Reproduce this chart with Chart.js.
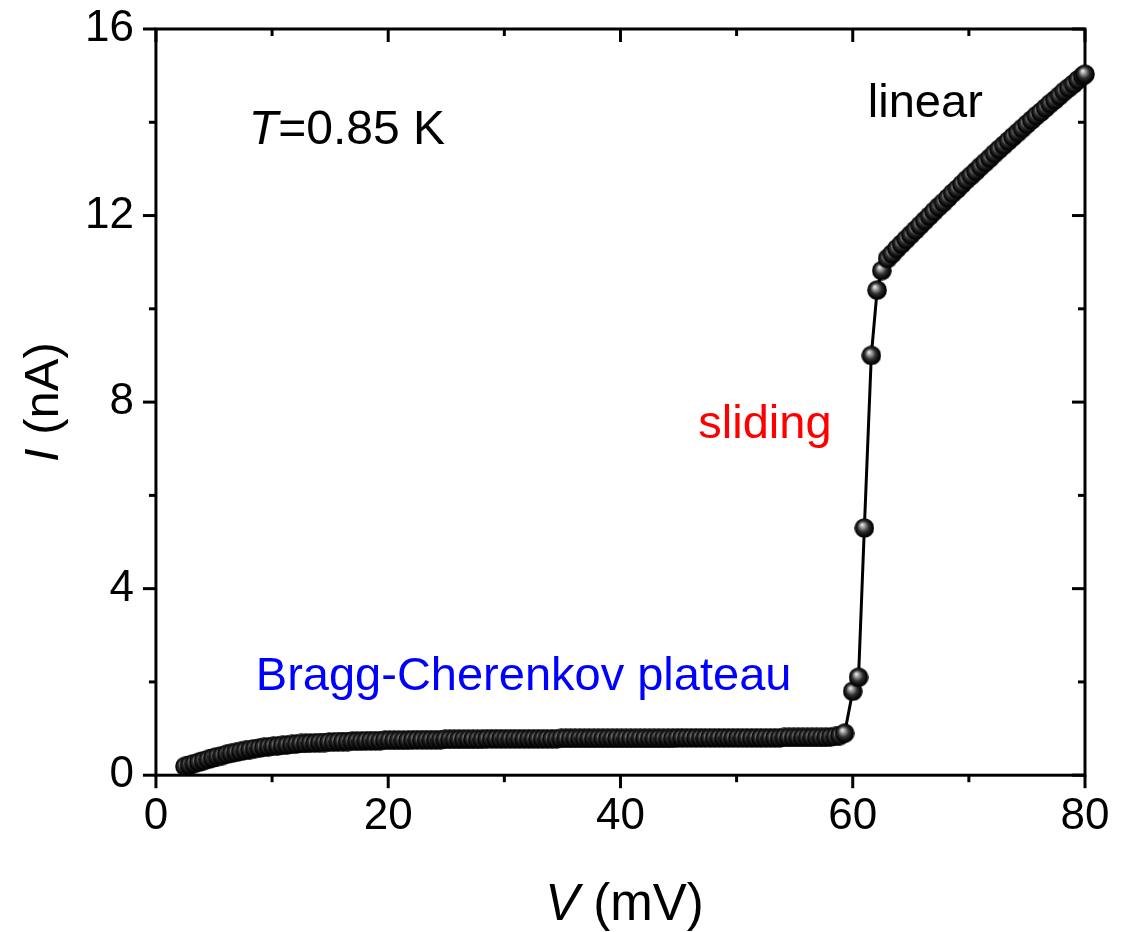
<!DOCTYPE html>
<html><head><meta charset="utf-8">
<script src="https://cdn.jsdelivr.net/npm/chart.js@4.4.0/dist/chart.umd.min.js"></script>
<style>html,body{margin:0;padding:0;background:#fff;}#wrap{width:1132px;height:932px;}</style>
</head><body><div id="wrap"><canvas id="c" width="1132" height="932"></canvas></div>
<script>
// ---------- data ----------
const plateauV = [2.5,2.9,3.3,3.7,4.1,4.5,4.9,5.3,5.7,6.1,6.5,6.9,7.3,7.7,8.1,8.5,8.9,9.3,9.7,
 10.1,10.5,10.9,11.3,11.7,12.1,12.5,12.9,13.3,13.7,14.1,14.5,14.9,15.3,15.7,16.1,16.5,16.9,17.3,17.7,18.1,18.5,18.9,19.3,19.7,
 20.1,20.5,20.9,21.3,21.7,22.1,22.5,22.9,23.3,23.7,24.1,24.5,24.9,25.3,25.7,26.1,26.5,26.9,27.3,27.7,28.1,28.5,28.9,29.3,29.7,
 30.1,30.5,30.9,31.3,31.7,32.1,32.5,32.9,33.3,33.7,34.1,34.5,34.9,35.3,35.7,36.1,36.5,36.9,37.3,37.7,38.1,38.5,38.9,39.3,39.7,
 40.1,40.5,40.9,41.3,41.7,42.1,42.5,42.9,43.3,43.7,44.1,44.5,44.9,45.3,45.7,46.1,46.5,46.9,47.3,47.7,48.1,48.5,48.9,49.3,49.7,
 50.1,50.5,50.9,51.3,51.7,52.1,52.5,52.9,53.3,53.7,54.1,54.5,54.9,55.3,55.7,56.1,56.5,56.9,57.3,57.7,58.1,58.5,58.9,59.3];
const plateauI = [0.19,0.22,0.25,0.28,0.31,0.34,0.37,0.40,0.42,0.45,0.47,0.49,0.51,0.53,0.55,0.57,0.58,0.60,0.61,
 0.62,0.63,0.64,0.65,0.66,0.67,0.68,0.68,0.69,0.69,0.70,0.70,0.71,0.71,0.72,0.72,0.72,0.73,0.73,0.73,0.74,0.74,0.74,0.74,0.75,
 0.75,0.75,0.75,0.75,0.75,0.76,0.76,0.76,0.76,0.76,0.76,0.76,0.77,0.77,0.77,0.77,0.77,0.77,0.77,0.77,0.77,0.78,0.78,0.78,0.78,
 0.78,0.78,0.78,0.78,0.78,0.78,0.78,0.78,0.78,0.78,0.78,0.78,0.79,0.79,0.79,0.79,0.79,0.79,0.79,0.79,0.79,0.79,0.79,0.79,0.79,
 0.79,0.79,0.79,0.79,0.79,0.79,0.79,0.79,0.79,0.79,0.79,0.79,0.80,0.80,0.80,0.80,0.80,0.80,0.80,0.80,0.80,0.80,0.80,0.80,0.80,
 0.80,0.80,0.80,0.80,0.80,0.80,0.80,0.80,0.80,0.80,0.81,0.81,0.81,0.81,0.81,0.81,0.81,0.81,0.81,0.81,0.82,0.83,0.85,0.90];
const slidingV = [60.0,60.5,61.0,61.6,62.1,62.5];
const slidingI = [1.80,2.10,5.30,9.00,10.40,10.82];
const linearV = [63.0,63.4,63.8,64.2,64.6,65.0,65.4,65.8,66.2,66.6,67.0,67.4,67.8,68.2,68.6,69.0,69.4,69.8,70.2,70.6,
 71.0,71.4,71.8,72.2,72.6,73.0,73.4,73.8,74.2,74.6,75.0,75.4,75.8,76.2,76.6,77.0,77.4,77.8,78.2,78.6,79.0,79.4,79.8,80.0];
const linearI = [11.08,11.18,11.29,11.39,11.49,11.59,11.69,11.79,11.89,11.99,12.09,12.19,12.28,12.38,12.48,12.57,12.67,12.77,12.86,12.95,
 13.05,13.14,13.23,13.33,13.42,13.51,13.60,13.69,13.78,13.87,13.96,14.05,14.14,14.22,14.31,14.40,14.48,14.57,14.66,14.74,14.82,14.91,14.99,15.03];
const xMajor = [0,20,40,60,80];
const xMinor = [10,30,50,70];
const yMajor = [0,4,8,12,16];
const yMinor = [2,6,10,14];
const xTitle = [{t:'V',i:true},{t:' (mV)',i:false}];
const yTitle = [{t:'I',i:true},{t:' (nA)',i:false}];
const notes = [
  {parts:[{t:'T',i:true},{t:'=0.85 K',i:false}], x:8.0, y:13.53, color:'#000000', size:48},
  {parts:[{t:'linear',i:false}], x:61.3, y:14.12, color:'#000000', size:47},
  {parts:[{t:'sliding',i:false}], x:46.7, y:7.24, color:'#ff0000', size:47},
  {parts:[{t:'Bragg-Cherenkov plateau',i:false}], x:8.6, y:1.83, color:'#0000ff', size:47}
];

// ---------- build ----------
const FONT = '"Liberation Sans", Arial, Helvetica, sans-serif';
const allV = plateauV.concat(slidingV, linearV);
const allI = plateauI.concat(slidingI, linearI);
const points = allV.map((v,k)=>({x:v, y:allI[k]}));

function makeBead(d){
  const c=document.createElement('canvas'); c.width=d; c.height=d;
  const g=c.getContext('2d'); const r=d/2;
  const grad=g.createRadialGradient(r*0.75, r*0.65, 0, r, r, r);
  grad.addColorStop(0,'#f8f8f8'); grad.addColorStop(0.2,'#b0b0b0');
  grad.addColorStop(0.55,'#303030'); grad.addColorStop(0.85,'#060606'); grad.addColorStop(1,'#000');
  g.fillStyle=grad; g.beginPath(); g.arc(r,r,r-0.2,0,Math.PI*2); g.fill();
  return c;
}
const bead = makeBead(20);

function mixedWidth(ctx, parts, size){
  let w=0; parts.forEach(p=>{ctx.font=(p.i?'italic ':'')+size+'px '+FONT; w+=ctx.measureText(p.t).width;}); return w;
}
function drawMixed(ctx, parts, x, y, size, color, align){
  ctx.save(); ctx.fillStyle=color; ctx.textBaseline='alphabetic'; ctx.textAlign='left';
  let cx = x; if(align==='center') cx = x - mixedWidth(ctx, parts, size)/2;
  parts.forEach(p=>{ctx.font=(p.i?'italic ':'')+size+'px '+FONT; ctx.fillText(p.t, cx, y); cx+=ctx.measureText(p.t).width;});
  ctx.restore();
}

const framePlugin = {
  id:'frame',
  beforeDatasetsDraw(chart){
    const {ctx, chartArea:a, scales:{x, y}} = chart;
    ctx.save(); ctx.strokeStyle='#000'; ctx.lineWidth=3; ctx.lineCap='square';
    ctx.strokeRect(a.left, a.top, a.right-a.left, a.bottom-a.top);
    ctx.lineCap='butt';
    const tick=(x1,y1,x2,y2)=>{ctx.beginPath(); ctx.moveTo(x1,y1); ctx.lineTo(x2,y2); ctx.stroke();};
    const MJ=13, MN=7;
    xMajor.forEach(v=>{const px=x.getPixelForValue(v); tick(px,a.bottom,px,a.bottom+MJ); tick(px,a.top,px,a.top+MJ);});
    xMinor.forEach(v=>{const px=x.getPixelForValue(v); tick(px,a.bottom,px,a.bottom+MN); tick(px,a.top,px,a.top+MN);});
    yMajor.forEach(v=>{const py=y.getPixelForValue(v); tick(a.left-MJ,py,a.left,py); tick(a.right-MJ,py,a.right,py);});
    yMinor.forEach(v=>{const py=y.getPixelForValue(v); tick(a.left-MN,py,a.left,py); tick(a.right-MN,py,a.right,py);});
    ctx.restore();
  },
  afterDraw(chart){
    const {ctx, chartArea:a, scales:{x, y}} = chart;
    drawMixed(ctx, xTitle, (a.left+a.right)/2+4, 920, 51, '#000', 'center');
    ctx.save(); ctx.translate(58, (a.top+a.bottom)/2); ctx.rotate(-Math.PI/2);
    drawMixed(ctx, yTitle, 0, 0, 49, '#000', 'center'); ctx.restore();
    notes.forEach(n=>drawMixed(ctx, n.parts, x.getPixelForValue(n.x), y.getPixelForValue(n.y), n.size, n.color, 'left'));
  }
};

new Chart(document.getElementById('c'), {
  type:'scatter',
  data:{datasets:[{data:points, showLine:true, borderColor:'#000', borderWidth:3, tension:0,
    pointStyle:bead, pointRadius:10, pointHoverRadius:10, clip:false}]},
  options:{
    responsive:false, animation:false, events:[],
    plugins:{legend:{display:false}, tooltip:{enabled:false}},
    layout:{padding:{left:63, right:47, top:29, bottom:74}},
    scales:{
      x:{type:'linear', min:0, max:80,
        afterBuildTicks:s=>{s.ticks=xMajor.map(v=>({value:v}));},
        ticks:{font:{family:FONT,size:44}, color:'#000', padding:15, maxRotation:0, autoSkip:false},
        grid:{display:false, drawTicks:false}, border:{display:false}},
      y:{type:'linear', min:0, max:16,
        afterBuildTicks:s=>{s.ticks=yMajor.map(v=>({value:v}));},
        ticks:{font:{family:FONT,size:44,lineHeight:0.2}, color:'#000', padding:22, autoSkip:false},
        grid:{display:false, drawTicks:false}, border:{display:false}}
    }
  },
  plugins:[framePlugin]
});
</script></body></html>
